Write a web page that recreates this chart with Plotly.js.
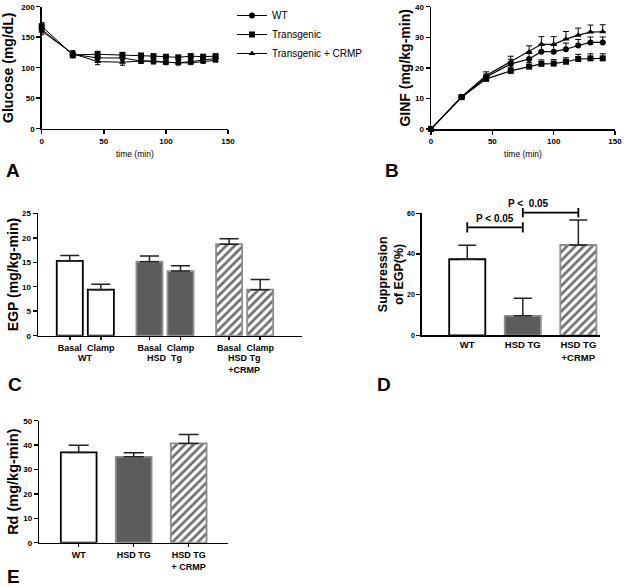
<!DOCTYPE html>
<html><head><meta charset="utf-8">
<script src="https://cdn.plot.ly/plotly-3.0.1.min.js"></script>
<style>html,body{margin:0;padding:0;background:#fff}#chart{width:625px;height:586px}</style>
</head><body><div id="chart"></div>
<script>
// ---------- Data ----------
const timeMin = [0, 25, 45, 65, 80, 90, 100, 110, 120, 130, 140];
const seriesNames = ['WT', 'Transgenic', 'Transgenic + CRMP'];
// Panel A: glucose (mg/dL)
const glucWT      = [163, 122, 116, 116, 111, 111, 109, 108, 110, 113, 115];
const glucWTErr   = [6, 5, 5, 5, 4, 4, 3, 3, 3, 3, 3];
const glucTg      = [168, 121, 122, 121, 120, 119, 118, 117, 119, 118, 119];
const glucTgErr   = [6, 5, 5, 4, 3, 3, 3, 3, 3, 3, 3];
const glucCRMP    = [160, 123, 110, 109, 111, 110, 108, 108, 108, 110, 112];
const glucCRMPErr = [6, 5, 5, 5, 4, 4, 3, 3, 3, 3, 3];
// Panel B: GINF (mg/kg-min)
const ginfWT      = [0, 10.5, 17.0, 21.3, 22.9, 25.3, 25.3, 26.1, 27.3, 28.3, 28.3];
const ginfWTErr   = [0, 0.5, 1.0, 1.5, 1.8, 2.0, 2.0, 2.0, 2.0, 1.8, 1.8];
const ginfTg      = [0, 10.4, 16.4, 19.0, 20.4, 21.3, 21.4, 22.0, 22.9, 23.1, 23.1];
const ginfTgErr   = [0, 0.4, 0.8, 1.2, 1.3, 1.3, 1.3, 1.3, 1.5, 1.5, 1.5];
const ginfCRMP    = [0, 10.6, 17.5, 22.0, 25.2, 27.7, 27.7, 29.4, 30.7, 31.7, 31.8];
const ginfCRMPErr = [0, 0.5, 1.2, 1.8, 2.0, 2.5, 2.5, 2.5, 2.3, 2.3, 2.3];
// Panel C: EGP (mg/kg-min)
const egpGroups     = ['WT', 'HSD\u00a0 Tg', 'HSD Tg<br>+CRMP'];
const egpConditions = ['Basal', 'Clamp'];
const egpBasal      = [15.3, 15.1, 18.7];
const egpBasalErr   = [1.1, 1.2, 1.1];
const egpClamp      = [9.4, 13.2, 9.4];
const egpClampErr   = [1.1, 1.1, 2.1];
// Panel D: suppression of EGP (%)
const supGroups = ['WT', 'HSD TG', 'HSD TG<br>+CRMP'];
const supValues = [37.4, 9.6, 44.4];
const supErr    = [6.9, 8.6, 12.3];
const supPText  = ['P < 0.05', 'P <\u00a0 0.05'];
// Panel E: Rd (mg/kg-min)
const rdGroups = ['WT', 'HSD TG', 'HSD TG<br>+ CRMP'];
const rdValues = [37.0, 35.2, 40.7];
const rdErr    = [2.9, 1.7, 3.6];

// ---------- Styles ----------
const FONT = 'Liberation Sans, Arial, Helvetica, sans-serif';
const W = 625, H = 586;
const fillColors = ['#ffffff', '#5c5c5c', '#6e6e6e'];
const lineColors = ['#000000', '#8e8e8e', '#8e8e8e'];
const patternShapes = ['', '', '/'];
const symbols = ['circle', 'square', 'triangle-up'];
const px = (a, b) => [a / W, b / W];
const py = (top, bottom) => [1 - bottom / H, 1 - top / H];
const barPattern = {shape: patternShapes, fillmode: 'replace', bgcolor: '#ffffff', size: 6, solidity: 0.45};

const traces = [];
const glucSets = [[glucWT, glucWTErr], [glucTg, glucTgErr], [glucCRMP, glucCRMPErr]];
const ginfSets = [[ginfWT, ginfWTErr], [ginfTg, ginfTgErr], [ginfCRMP, ginfCRMPErr]];
glucSets.forEach((s, i) => traces.push({
  type: 'scatter', mode: 'lines+markers', x: timeMin, y: s[0], name: seriesNames[i],
  xaxis: 'x', yaxis: 'y', cliponaxis: false,
  line: {color: '#000', width: 1}, marker: {symbol: symbols[i], size: 6, color: '#000'},
  error_y: {type: 'data', array: s[1], visible: true, color: '#000', thickness: 1, width: 2.5}
}));
ginfSets.forEach((s, i) => traces.push({
  type: 'scatter', mode: 'lines+markers', x: timeMin, y: s[0], name: seriesNames[i],
  xaxis: 'x2', yaxis: 'y2', showlegend: false, cliponaxis: false,
  line: {color: '#000', width: 1.2}, marker: {symbol: symbols[i], size: 6, color: '#000'},
  error_y: {type: 'data', array: s[1], symmetric: false, arrayminus: s[1].map(() => 0),
            visible: true, color: '#000', thickness: 1, width: 3}
}));

// Panel C grouped bars at computed positions
const cOffset = 0.195, cWidth = 0.327;
const cTickVals = [], cTickText = [];
[[egpBasal, egpBasalErr], [egpClamp, egpClampErr]].forEach((s, k) => {
  const xs = egpGroups.map((g, i) => i + (k === 0 ? -cOffset : cOffset));
  xs.forEach(v => { cTickVals.push(v); cTickText.push(egpConditions[k]); });
  traces.push({
    type: 'bar', x: xs, y: s[0], width: cWidth, xaxis: 'x3', yaxis: 'y3', showlegend: false,
    name: egpConditions[k],
    marker: {color: fillColors, line: {color: lineColors, width: 1.8}, pattern: barPattern},
    error_y: {type: 'data', array: s[1], symmetric: false, arrayminus: s[1].map(() => 0),
              visible: true, color: '#222', thickness: 1.5, width: 9.5}
  });
});
// Panel D
traces.push({
  type: 'bar', x: supGroups, y: supValues, width: 0.65, xaxis: 'x4', yaxis: 'y4', showlegend: false,
  marker: {color: fillColors, line: {color: lineColors, width: 1.8}, pattern: barPattern},
  error_y: {type: 'data', array: supErr, symmetric: false, arrayminus: supErr.map(() => 0),
            visible: true, color: '#222', thickness: 1.5, width: 9}
});
// Panel E
traces.push({
  type: 'bar', x: rdGroups, y: rdValues, width: 0.65, xaxis: 'x5', yaxis: 'y5', showlegend: false,
  marker: {color: fillColors, line: {color: lineColors, width: 1.8}, pattern: barPattern},
  error_y: {type: 'data', array: rdErr, symmetric: false, arrayminus: rdErr.map(() => 0),
            visible: true, color: '#222', thickness: 1.5, width: 10}
});

const baseAxis = (o) => Object.assign({
  showgrid: false, zeroline: false, showline: true, linecolor: '#000', linewidth: 1.5,
  ticks: 'outside', ticklen: 4, tickwidth: 1.5, tickcolor: '#000',
  tickfont: {family: FONT, size: 8, color: '#000', weight: 'bold'}, fixedrange: true
}, o);
const yTitle = (text, size, standoff) => ({text: text, font: {family: FONT, size: size, weight: 'bold', color: '#000'}, standoff: standoff});

const dRange = [-0.82, 2.39];
const dFrac = i => (i - dRange[0]) / (dRange[1] - dRange[0]);
const brackets = [[0, 1, 53.1, 2.5], [1, 2, 60.3, 2.3]];
const shapes = [];
const annotations = [];
brackets.forEach((b, j) => {
  const x0 = dFrac(b[0]), x1 = dFrac(b[1]), yv = b[2] / 60, dy = b[3] / 60;
  const base = {type: 'line', xref: 'x4 domain', yref: 'y4 domain', line: {color: '#000', width: 1.8}};
  shapes.push(Object.assign({x0: x0, x1: x1, y0: yv, y1: yv}, base));
  shapes.push(Object.assign({x0: x0, x1: x0, y0: yv - dy, y1: yv + dy}, base));
  shapes.push(Object.assign({x0: x1, x1: x1, y0: yv - dy, y1: yv + dy}, base));
  annotations.push({xref: 'x4 domain', yref: 'y4 domain', x: (x0 + x1) / 2, y: yv + 0.012, yanchor: 'bottom',
    text: supPText[j], showarrow: false, font: {family: FONT, size: 10, weight: 'bold', color: '#000'}});
});
egpGroups.forEach((g, i) => annotations.push({
  xref: 'x3', yref: 'paper', x: i, y: 1 - 351 / H, yanchor: 'top', text: g, showarrow: false,
  font: {family: FONT, size: 9, weight: 'bold', color: '#000'}
}));
[['A', 13, 170], ['B', 392, 170], ['C', 15, 384], ['D', 384, 384], ['E', 13, 576]].forEach(l => annotations.push({
  xref: 'paper', yref: 'paper', x: l[1] / W, y: 1 - l[2] / H, xanchor: 'center', yanchor: 'middle',
  text: l[0], showarrow: false, font: {family: FONT, size: 19, weight: 'bold', color: '#000'}
}));

const xTitle = {text: 'time (min)', font: {family: FONT, size: 8.5, color: '#000'}, standoff: 6};
const layout = {
  width: W, height: H, margin: {l: 0, r: 0, t: 0, b: 0}, paper_bgcolor: '#fff', plot_bgcolor: '#fff',
  font: {family: FONT, color: '#000'},
  showlegend: true,
  legend: {x: 232 / W, y: 1 - 1 / H, xanchor: 'left', yanchor: 'top', font: {family: FONT, size: 10, color: '#000'},
           bgcolor: 'rgba(0,0,0,0)', itemwidth: 30, tracegroupgap: 0},
  xaxis: baseAxis({domain: px(41.7, 228), range: [0, 150], tickvals: [0, 50, 100, 150], anchor: 'y', title: xTitle}),
  yaxis: baseAxis({domain: py(6.7, 128.7), range: [0, 200], tickvals: [0, 50, 100, 150, 200], anchor: 'x',
                   title: yTitle('Glucose (mg/dL)', 14, 4)}),
  xaxis2: baseAxis({domain: px(431, 615), range: [0, 150], tickvals: [0, 50, 100, 150], anchor: 'y2', title: xTitle}),
  yaxis2: baseAxis({domain: py(6.7, 129), range: [0, 40], tickvals: [0, 10, 20, 30, 40], anchor: 'x2',
                    title: yTitle('GINF (mg/kg-min)', 14, 1)}),
  xaxis3: baseAxis({domain: px(38, 302), range: [-0.594, 2.72], tickmode: 'array', tickvals: cTickVals, ticktext: cTickText,
                    ticklen: 3, anchor: 'y3', tickfont: {family: FONT, size: 9, color: '#000', weight: 'bold'}}),
  yaxis3: baseAxis({domain: py(213.3, 335.7), range: [0, 25], tickvals: [0, 5, 10, 15, 20, 25], anchor: 'x3',
                    title: yTitle('EGP (mg/kg-min)', 14, 0)}),
  xaxis4: baseAxis({domain: px(421.7, 600), range: dRange, type: 'category', ticks: '', anchor: 'y4',
                    tickfont: {family: FONT, size: 9.5, color: '#000', weight: 'bold'}}),
  yaxis4: baseAxis({domain: py(213.3, 335.3), range: [0, 60], tickvals: [0, 20, 40, 60], anchor: 'x4',
                    tickfont: {family: FONT, size: 7, color: '#000', weight: 'bold'},
                    title: yTitle('Suppression<br>of EGP(%)', 12.5, 0)}),
  xaxis5: baseAxis({domain: px(39.3, 228.3), range: [-0.716, 2.72], type: 'category', ticklen: 3, anchor: 'y5',
                    tickfont: {family: FONT, size: 9, color: '#000', weight: 'bold'}}),
  yaxis5: baseAxis({domain: py(420.7, 542.7), range: [0, 50], tickvals: [0, 10, 20, 30, 40, 50], anchor: 'x5',
                    title: yTitle('Rd (mg/kg-min)', 14.5, 1)}),
  shapes: shapes, annotations: annotations
};
Plotly.newPlot('chart', traces, layout, {displayModeBar: false, staticPlot: true});
</script></body></html>
